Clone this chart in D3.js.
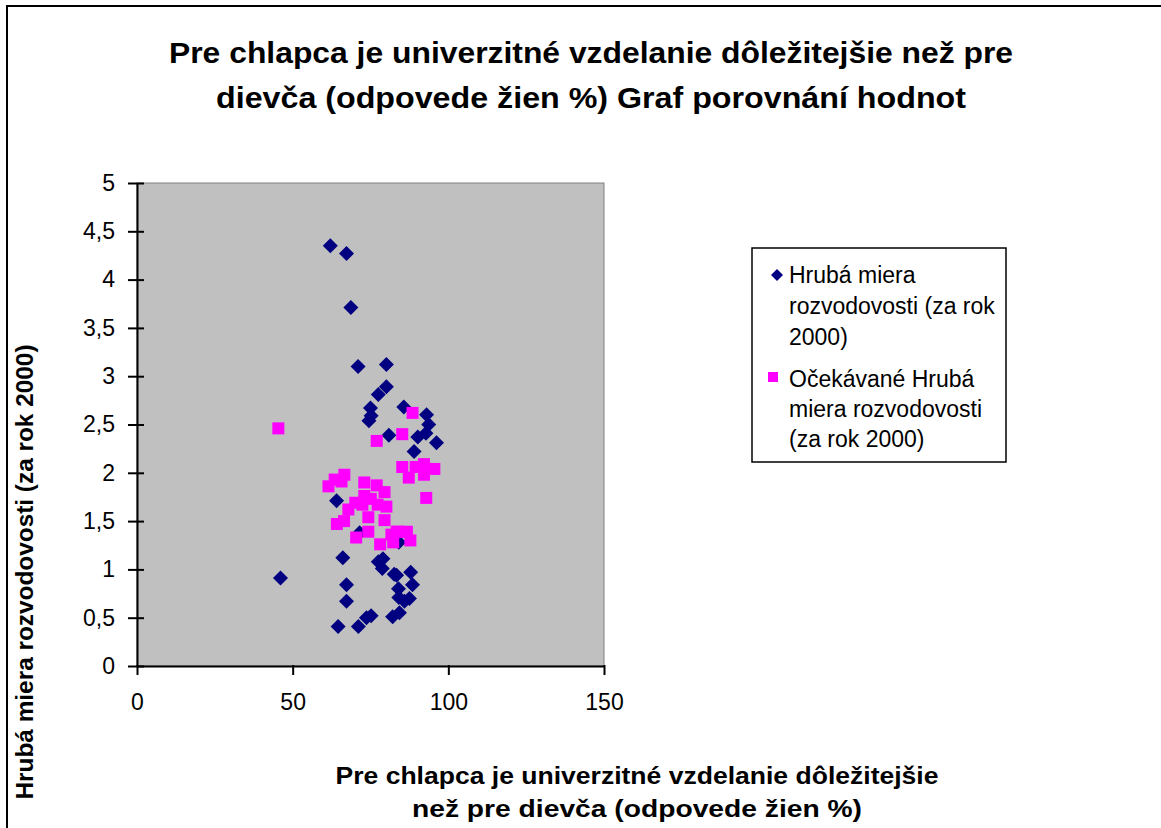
<!DOCTYPE html>
<meta charset="utf-8">
<style>
  body { margin: 0; background: #fff; }
  text { font-family: "Liberation Sans", Arial, sans-serif; }
</style>
<svg width="1161" height="828"></svg>
<script src="https://d3js.org/d3.v7.min.js"></script>
<script>
// Hrubá miera rozvodovosti (za rok 2000)
var actualX = [62.1, 67.3, 68.7, 71.0, 80.1, 80.1, 77.5, 75.0, 74.5, 75.2, 85.7, 93.0, 93.7, 92.8,
  90.2, 96.2, 80.9, 89.0, 64.1, 66.1, 46.1, 67.3, 67.3, 64.6, 71.1, 73.7, 75.2, 77.5, 79.0,
  78.8, 82.6, 83.4, 87.9, 88.5, 84.0, 84.1, 85.9, 87.5, 82.1, 84.3, 84.1, 71.5]
var actualY = [4.35, 4.27, 3.71, 3.10, 3.12, 2.89, 2.81, 2.67, 2.54, 2.59, 2.68, 2.60, 2.50, 2.41,
  2.37, 2.31, 2.39, 2.22, 1.71, 1.12, 0.91, 0.84, 0.67, 0.41, 0.41, 0.50, 0.52, 1.08, 1.11,
  1.01, 0.95, 0.94, 0.97, 0.84, 0.80, 0.71, 0.67, 0.70, 0.51, 0.55, 1.28, 1.38]

// Očekávané Hrubá miera rozvodovosti (za rok 2000)
var expectedX = [45.4, 88.5, 85.2, 77.0, 85.2, 89.5, 92.2, 95.5, 92.2, 87.3, 92.9, 66.6, 63.5,
  61.5, 65.7, 73.0, 77.0, 79.5, 73.0, 70.1, 72.4, 75.1, 77.3, 80.1, 67.9, 74.3, 79.5, 64.2,
  66.5, 74.3, 70.4, 78.1, 81.7, 83.4, 86.7, 82.3, 87.8, 84.0]
var expectedY = [2.46, 2.62, 2.40, 2.33, 2.06, 2.06, 2.09, 2.04, 1.98, 1.95, 1.74, 1.98, 1.93,
  1.86, 1.91, 1.90, 1.87, 1.80, 1.76, 1.69, 1.67, 1.73, 1.67, 1.65, 1.62, 1.54, 1.51, 1.47,
  1.50, 1.39, 1.33, 1.26, 1.36, 1.39, 1.39, 1.28, 1.30, 1.39]

var xTicks = [0, 50, 100, 150]
var yTicks = [0, 0.5, 1, 1.5, 2, 2.5, 3, 3.5, 4, 4.5, 5]

var titleLines = ['Pre chlapca je univerzitné vzdelanie dôležitejšie než pre',
  'dievča (odpovede žien %) Graf porovnání hodnot']
var xLabelLines = ['Pre chlapca je univerzitné vzdelanie dôležitejšie',
  'než pre dievča (odpovede žien %)']
var yLabel = 'Hrubá miera rozvodovosti (za rok 2000)'
var legendActual = ['Hrubá miera', 'rozvodovosti (za rok', '2000)']
var legendExpected = ['Očekávané Hrubá', 'miera rozvodovosti', '(za rok 2000)']

var svg = d3.select('svg')

// outer chart frame
svg.append('rect')
  .attr('x', 7).attr('y', 6)
  .attr('width', 1170).attr('height', 840)
  .attr('fill', 'none').attr('stroke', '#000').attr('stroke-width', 2)

var plot = { left: 137, right: 604, top: 183, bottom: 666 }

var x = d3.scaleLinear().domain([0, 150]).range([plot.left, plot.right])
var y = d3.scaleLinear().domain([0, 5]).range([plot.bottom, plot.top])

svg.append('rect')
  .attr('x', plot.left).attr('y', plot.top)
  .attr('width', plot.right - plot.left).attr('height', plot.bottom - plot.top)
  .attr('fill', '#c0c0c0').attr('stroke', '#808080').attr('stroke-width', 1)

var fmt = function (d) { return String(d).replace('.', ',') }

// y axis
var yAxis = svg.append('g')
  .attr('transform', 'translate(' + plot.left + ',0)')
  .call(d3.axisLeft(y).tickValues(yTicks).tickFormat(fmt).tickSizeInner(8).tickSizeOuter(0).tickPadding(14))
yAxis.select('.domain').attr('stroke-width', 2)
yAxis.selectAll('.tick line').attr('stroke-width', 2).attr('x2', 7).attr('x1', -9)
yAxis.selectAll('.tick text').attr('font-size', 23).attr('fill', '#000')
  .attr('font-family', '"Liberation Sans", Arial, sans-serif')

// x axis
var xAxis = svg.append('g')
  .attr('transform', 'translate(0,' + plot.bottom + ')')
  .call(d3.axisBottom(x).tickValues(xTicks).tickFormat(fmt).tickSizeInner(8).tickSizeOuter(0).tickPadding(20))
xAxis.select('.domain').attr('stroke-width', 2)
xAxis.selectAll('.tick line').attr('stroke-width', 2).attr('y1', -1).attr('y2', 9)
xAxis.selectAll('.tick text').attr('font-size', 23).attr('fill', '#000')
  .attr('font-family', '"Liberation Sans", Arial, sans-serif')

// points
svg.append('g').selectAll('path')
  .data(actualX.map(function (v, i) { return [v, actualY[i]] }))
  .join('path')
  .attr('d', 'M0,-7.5L7.5,0L0,7.5L-7.5,0Z')
  .attr('transform', function (d) { return 'translate(' + x(d[0]) + ',' + y(d[1]) + ')' })
  .attr('fill', '#000080')

svg.append('g').selectAll('rect')
  .data(expectedX.map(function (v, i) { return [v, expectedY[i]] }))
  .join('rect')
  .attr('x', function (d) { return x(d[0]) - 6 })
  .attr('y', function (d) { return y(d[1]) - 6 })
  .attr('width', 12).attr('height', 12)
  .attr('fill', '#ff00ff')

// title
var titleWidths = [844, 750]
svg.append('g').selectAll('text').data(titleLines).join('text')
  .attr('x', 591).attr('y', function (d, i) { return 63 + i * 45 })
  .attr('text-anchor', 'middle')
  .attr('font-size', 30).attr('font-weight', 'bold')
  .attr('textLength', function (d, i) { return titleWidths[i] })
  .attr('lengthAdjust', 'spacingAndGlyphs')
  .text(function (d) { return d })

// x axis label
var xLabelWidths = [603, 450]
svg.append('g').selectAll('text').data(xLabelLines).join('text')
  .attr('x', 637).attr('y', function (d, i) { return 784 + i * 33 })
  .attr('text-anchor', 'middle')
  .attr('font-size', 24).attr('font-weight', 'bold')
  .attr('textLength', function (d, i) { return xLabelWidths[i] })
  .attr('lengthAdjust', 'spacingAndGlyphs')
  .text(function (d) { return d })

// y axis label
svg.append('text')
  .attr('transform', 'translate(33,572) rotate(-90)')
  .attr('text-anchor', 'middle')
  .attr('font-size', 24).attr('font-weight', 'bold')
  .attr('textLength', 455).attr('lengthAdjust', 'spacingAndGlyphs')
  .text(yLabel)

// legend
var legend = svg.append('g')
legend.append('rect')
  .attr('x', 752).attr('y', 248).attr('width', 254).attr('height', 214)
  .attr('fill', '#fff').attr('stroke', '#000').attr('stroke-width', 1.5)

legend.append('path')
  .attr('d', 'M0,-6L6,0L0,6L-6,0Z')
  .attr('transform', 'translate(777,275)')
  .attr('fill', '#000080')
legend.append('rect')
  .attr('x', 768).attr('y', 372).attr('width', 10).attr('height', 10)
  .attr('fill', '#ff00ff')

legend.append('text')
  .attr('font-size', 23)
  .selectAll('tspan').data(legendActual).join('tspan')
  .attr('x', 789).attr('y', function (d, i) { return 283 + i * 31 })
  .text(function (d) { return d })

legend.append('text')
  .attr('font-size', 23)
  .selectAll('tspan').data(legendExpected).join('tspan')
  .attr('x', 789).attr('y', function (d, i) { return 387 + i * 30 })
  .text(function (d) { return d })
</script>
